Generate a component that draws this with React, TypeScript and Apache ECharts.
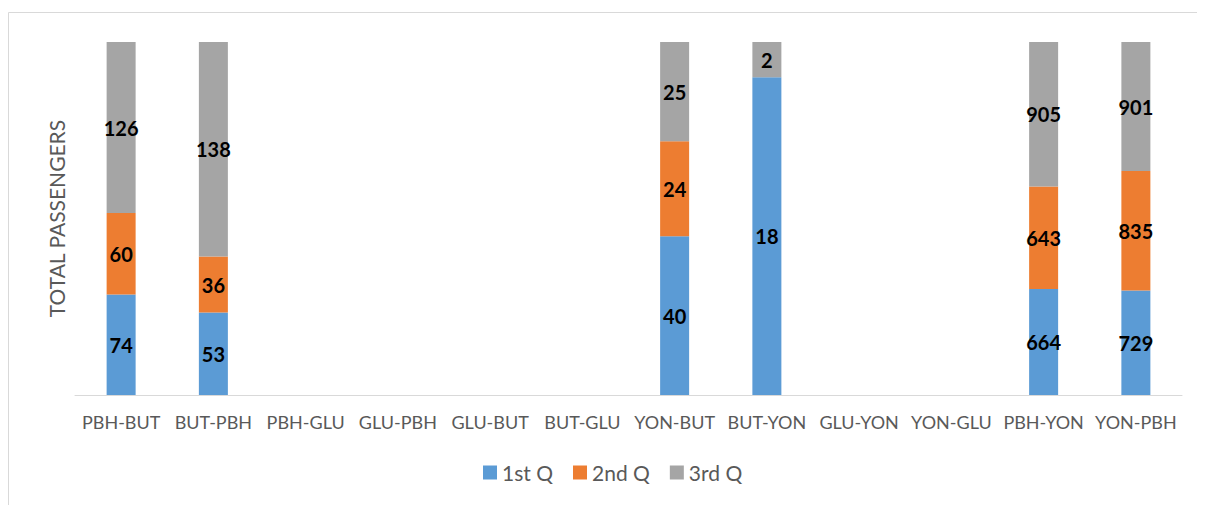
import React, { useEffect, useRef } from "react";
import * as echarts from "echarts";

const categories = ["PBH-BUT", "BUT-PBH", "PBH-GLU", "GLU-PBH", "GLU-BUT", "BUT-GLU", "YON-BUT", "BUT-YON", "GLU-YON", "YON-GLU", "PBH-YON", "YON-PBH"];
const q1: (number | null)[] = [74, 53, null, null, null, null, 40, 18, null, null, 664, 729];
const q2: (number | null)[] = [60, 36, null, null, null, null, 24, null, null, null, 643, 835];
const q3: (number | null)[] = [126, 138, null, null, null, null, 25, 2, null, null, 905, 901];
const seriesNames = ["1st Q", "2nd Q", "3rd Q"];
const colors = ["#5B9BD5", "#ED7D31", "#A5A5A5"];

export default function App() {
  const ref = useRef<HTMLDivElement>(null);
  useEffect(() => {
    if (!ref.current) return;
    document.documentElement.style.overflow = "hidden";
    document.body.style.overflow = "hidden";
    const chart = echarts.init(ref.current, undefined, { renderer: "svg" });
    const raw = [q1, q2, q3];
    const totals = categories.map((_, i) => raw.reduce((s, arr) => s + (arr[i] ?? 0), 0));
    const font = "Lato, 'Open Sans', sans-serif";
    const series = raw.map((arr, k) => ({
      name: seriesNames[k],
      type: "bar",
      stack: "total",
      barWidth: 29,
      itemStyle: { color: colors[k] },
      label: {
        show: true,
        position: "inside",
        color: "#000",
        fontWeight: "bold",
        fontSize: 20,
        fontFamily: font,
        formatter: (p: any) => String(arr[p.dataIndex]),
      },
      data: arr.map((v, i) => (v == null || totals[i] === 0 ? null : (v / totals[i]) * 100)),
    }));
    chart.setOption({
      animation: false,
      color: colors,
      graphic: [
        {
          type: "line",
          shape: { x1: 0.5, y1: 4.5, x2: 1400, y2: 4.5 },
          style: { stroke: "#d9d9d9", lineWidth: 1 },
          silent: true,
        },
        {
          type: "line",
          shape: { x1: 0.5, y1: 4.5, x2: 0.5, y2: 1000 },
          style: { stroke: "#d9d9d9", lineWidth: 1 },
          silent: true,
        },
      ],
      legend: {
        left: 470,
        top: 449,
        padding: 5,
        itemWidth: 14,
        itemHeight: 14,
        itemGap: 20,
        icon: "rect",
        textStyle: { color: "#595959", fontSize: 21, fontFamily: font },
        data: seriesNames,
      },
      grid: { left: 67, right: 23, top: 34, bottom: 110 },
      xAxis: {
        type: "category",
        data: categories,
        axisLine: { lineStyle: { color: "#d9d9d9", width: 1 } },
        axisTick: { show: false },
        axisLabel: { color: "#595959", fontSize: 18, fontFamily: font, margin: 18, interval: 0 },
      },
      yAxis: {
        type: "value",
        min: 0,
        max: 100,
        name: "TOTAL PASSENGERS",
        nameLocation: "middle",
        nameGap: 8,
        nameTextStyle: { color: "#595959", fontSize: 21, fontFamily: font },
        axisLine: { show: false },
        axisTick: { show: false },
        axisLabel: { show: false },
        splitLine: { show: false },
      },
      series,
    });
    return () => chart.dispose();
  }, []);
  return <div ref={ref} style={{ width: 1197, height: 497 }} />;
}
